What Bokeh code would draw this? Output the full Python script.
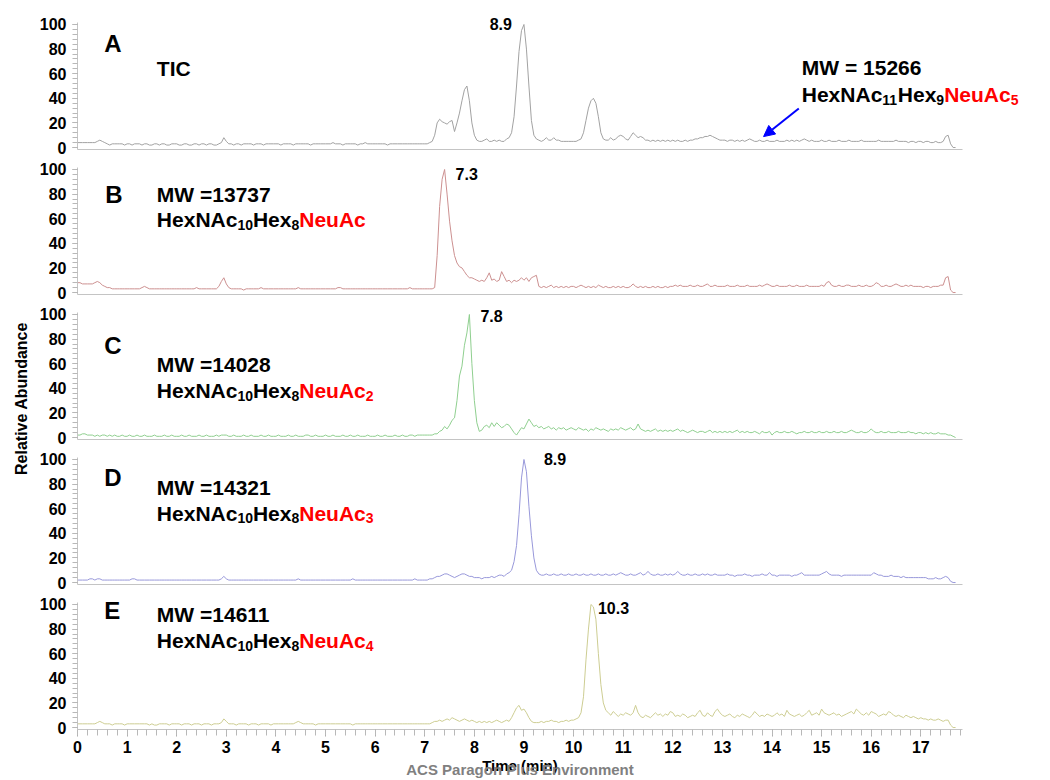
import math
from bokeh.plotting import figure
from bokeh.layouts import column, row
from bokeh.models import (Range1d, SingleIntervalTicker, FixedTicker, Label, Arrow,
                          NormalHead, LinearAxis)
from bokeh.embed import file_html
from bokeh.resources import INLINE

# ---------------- data ----------------
# each row = one minute, sampled every 0.05 min (m.00, m.05, ... m.95)
tic_rows = [
    [4,4,4,4,4,4,4,4,5,6,5,4,3,2,3,3,3,3,3,2],
    [3,3,2,3,3,3,2,3,3,2,2,3,3,2,3,3,2,2,3,3],
    [3,2,2,3,3,2,2,3,3,2,3,3,2,3,3,2,2,3,4,8],
    [5,3,3,2,3,3,2,3,3,3,3,2,3,3,3,2,3,3,3,3],
    [3,3,2,3,3,3,3,2,3,3,3,3,3,3,2,3,3,3,3,3],
    [3,3,3,4,3,3,3,2,3,3,3,3,3,2,3,3,4,3,3,3],
    [3,3,3,3,3,2,3,3,3,3,3,3,3,3,3,3,3,3,3,3],
    [3,3,4,5,10,20,23,21,20,19,21,22,13,20,28,38,47,50,38,20],
    [10,6,5,5,6,7,5,5,6,5,6,5,5,7,8,12,25,50,78,95],
    [100,80,50,22,10,7,6,5,6,8,6,6,8,6,6,5,5,5,5,5],
    [5,5,6,7,12,22,32,38,40,36,25,12,7,6,6,8,6,7,9,10],
    [9,7,6,9,12,10,8,9,8,6,6,5,6,5,6,5,6,5,6,5],
    [6,5,6,5,5,6,5,6,6,7,7,8,8,9,9,10,9,8,7,6],
    [6,6,5,6,6,5,6,5,6,5,6,7,6,5,5,6,5,5,6,5],
    [5,5,6,5,5,5,6,5,6,5,6,5,6,7,6,5,6,5,5,5],
    [6,5,5,6,5,5,5,6,5,5,5,6,5,5,5,5,6,5,5,5],
    [5,5,5,6,5,5,5,5,5,5,6,5,5,5,5,4,5,5,4,5],
    [5,4,5,5,4,4,5,4,4,5,9,10,3,0,0],
]
mw13737_rows = [
    [8,8,7,7,7,7,7,8,9,8,6,5,4,4,3,3,3,3,3,3],
    [3,3,3,3,3,3,4,5,4,3,3,3,3,3,3,3,3,3,3,3],
    [3,3,3,3,3,3,3,3,4,3,3,3,3,3,3,3,3,5,9,12],
    [7,4,3,3,3,3,3,2,3,3,3,3,3,3,4,3,3,3,3,3],
    [3,3,3,3,3,3,3,3,3,4,3,3,3,3,3,3,3,3,3,3],
    [3,3,3,3,3,4,4,3,3,3,3,3,3,3,3,3,3,3,3,3],
    [3,3,3,3,3,3,3,3,3,3,3,3,3,3,4,3,3,3,3,3],
    [3,3,3,3,4,30,70,92,100,80,58,42,30,24,21,20,17,14,12,12],
    [11,10,9,10,9,12,16,10,11,9,10,17,13,9,10,8,10,9,10,12],
    [10,12,9,12,13,14,5,4,5,4,5,6,4,5,4,5,4,5,4,5],
    [5,4,5,6,5,4,5,4,5,4,6,5,4,5,4,4,5,4,5,4],
    [5,4,4,5,7,5,4,5,4,5,4,4,5,4,5,4,4,5,4,5],
    [5,6,5,6,5,5,5,6,5,5,6,5,5,6,7,5,5,6,5,5],
    [5,5,6,5,5,5,6,5,5,5,6,5,5,5,5,6,5,6,7,6],
    [5,5,6,5,5,5,5,6,5,5,6,5,5,5,6,5,5,5,5,5],
    [6,5,8,9,6,5,5,6,5,5,6,6,5,5,5,6,5,5,6,5],
    [5,6,8,7,5,5,6,5,5,6,7,6,5,5,6,5,6,5,5,5],
    [5,4,5,5,4,5,5,5,6,6,12,13,2,0,0],
]
mw14028_rows = [
    [2,2,3,3,2,2,2,1,2,1,2,2,1,2,1,2,1,1,2,1],
    [1,2,1,1,2,1,1,2,1,1,1,2,1,1,1,2,1,1,2,1],
    [1,1,2,1,1,2,1,1,1,2,1,1,2,1,1,1,2,1,2,2],
    [2,1,1,2,1,1,1,2,1,1,2,1,1,1,2,1,1,2,1,1],
    [1,2,1,1,1,2,1,1,2,1,1,1,2,2,1,1,2,1,1,1],
    [2,1,1,2,1,1,1,2,1,1,2,1,1,2,1,1,1,2,1,1],
    [1,2,1,1,2,1,1,1,2,1,1,2,1,1,2,2,1,2,2,2],
    [2,2,2,2,3,3,5,6,9,7,10,14,16,30,50,58,75,85,100,60],
    [30,12,5,6,9,10,8,12,9,12,10,8,9,11,10,7,4,2,5,8],
    [7,11,15,12,9,10,8,9,7,8,9,7,8,6,8,7,8,6,7,8],
    [7,6,8,7,6,7,5,7,6,8,7,6,7,6,5,7,6,7,6,8],
    [7,6,7,8,6,7,11,7,6,5,6,5,6,7,5,6,5,6,5,6],
    [5,6,7,5,6,5,4,5,6,5,4,5,5,4,5,6,4,5,4,5],
    [4,5,4,5,4,5,6,4,5,4,5,4,4,5,4,3,5,4,4,5],
    [2,4,5,4,4,5,4,4,5,4,3,4,4,5,4,4,5,4,4,5],
    [4,4,5,4,4,5,4,4,5,4,4,5,6,5,4,4,5,4,4,5],
    [7,5,4,4,5,4,4,5,4,4,4,5,4,4,4,5,4,4,3,4],
    [4,3,4,3,4,3,3,4,3,3,3,2,2,1,0],
]
mw14321_rows = [
    [2,2,2,2,2,3,3,2,3,3,2,2,2,2,2,2,2,2,2,2],
    [2,2,3,3,2,2,2,2,2,2,2,2,2,2,2,2,2,2,2,2],
    [2,2,2,2,2,2,2,2,2,2,2,2,2,2,2,2,2,2,3,5],
    [3,2,2,2,2,2,2,2,2,2,2,2,2,2,2,2,2,2,2,2],
    [2,2,2,2,2,2,2,2,2,3,2,2,2,2,2,2,2,2,2,2],
    [2,2,2,2,2,2,2,2,2,2,2,3,2,2,2,2,2,2,2,2],
    [2,2,2,2,2,2,2,2,2,2,2,2,2,2,2,2,3,2,2,2],
    [2,2,3,3,4,5,5,6,7,7,6,5,4,5,6,7,7,6,5,5],
    [4,4,4,3,4,4,4,5,4,5,6,6,5,7,8,10,17,30,55,85],
    [100,90,62,38,20,10,7,6,6,7,6,6,7,6,6,7,6,6,7,6],
    [6,7,6,6,7,6,6,7,6,6,7,6,6,7,6,6,7,6,7,8],
    [7,6,6,7,6,6,7,8,6,7,9,7,6,6,7,6,6,7,6,7],
    [6,7,9,7,6,6,7,6,6,7,6,6,7,6,7,6,6,7,6,6],
    [6,6,7,6,6,5,6,6,6,7,6,6,5,6,6,6,7,6,6,8],
    [6,6,5,6,6,6,6,6,5,6,6,7,8,6,6,6,6,6,6,6],
    [7,8,9,7,6,6,6,6,5,6,6,6,6,6,6,6,6,6,6,6],
    [6,8,7,6,6,5,5,5,6,5,5,5,4,5,4,4,4,4,4,4],
    [4,4,4,3,3,3,4,3,3,4,5,4,1,0,0],
]
mw14611_rows = [
    [3,3,3,3,3,3,3,3,4,5,4,3,3,3,2,3,3,3,3,2],
    [3,3,3,3,3,3,3,3,3,2,3,2,2,3,3,3,3,2,3,3],
    [3,3,2,3,3,3,2,3,3,3,2,3,3,3,2,3,3,3,4,7],
    [5,3,3,3,2,3,3,3,3,2,3,3,3,2,3,3,3,3,2,3],
    [3,3,3,3,3,3,3,3,4,5,4,3,3,3,3,3,2,3,3,3],
    [3,3,3,3,3,3,3,3,3,3,3,2,3,3,3,3,3,3,3,3],
    [3,3,3,3,3,3,3,3,3,3,3,3,3,3,3,3,3,3,3,3],
    [3,3,3,4,5,5,6,5,6,7,6,8,7,6,5,6,7,6,5,6],
    [5,4,5,4,5,4,5,4,5,6,5,4,5,6,5,8,12,16,18,14],
    [15,12,8,5,4,4,4,5,4,5,5,6,5,5,4,5,5,6,5,6],
    [6,7,8,12,25,55,80,100,98,88,60,35,20,14,12,10,13,11,9,11],
    [10,12,11,10,12,18,12,9,8,10,9,8,10,12,10,11,9,11,10,13],
    [12,9,10,9,11,10,8,9,10,9,12,14,10,9,12,10,9,13,15,12],
    [10,9,10,11,9,8,10,9,11,10,9,8,10,13,11,9,10,9,11,10],
    [9,10,12,10,11,9,14,11,10,9,10,11,9,10,12,14,10,11,12,10],
    [15,12,11,10,11,12,10,11,9,10,11,12,13,11,15,13,11,10,12,10],
    [13,12,11,9,10,11,10,13,12,10,9,10,9,8,10,9,8,9,8,7],
    [8,7,7,6,7,6,6,7,6,5,6,6,2,0,0],
]

panel_letters = ["A", "B", "C", "D", "E"]
mw_texts = ["MW = 15266", "MW =13737", "MW =14028", "MW =14321", "MW =14611"]
hexnac_n = ["11", "10", "10", "10", "10"]
hex_n = ["9", "8", "8", "8", "8"]
neuac_n = ["5", "", "2", "3", "4"]
peak_labels = ["8.9", "7.3", "7.8", "8.9", "10.3"]
x_axis_end = 17.84          # time axis runs 0 .. 17.84 min
y_axis_bounds = (-1.6, 101.6)

# ---------------- helpers ----------------
def rows_to_xy(rows):
    xs, ys = [], []
    for m, row_ in enumerate(rows):
        for i, v in enumerate(row_):
            xs.append(round(m + 0.05 * i, 2))
            ys.append(v)
    return xs, ys

series = [tic_rows, mw13737_rows, mw14028_rows, mw14321_rows, mw14611_rows]
colors = ["#a2a2a2", "#cc9090", "#8fcf8f", "#9898da", "#cdcd92"]

FONT = "Liberation Sans"
W = {'H': 722, 'e': 556, 'x': 556, 'N': 722, 'A': 722, 'c': 556, 'u': 611}

def tw(s, size):
    return sum(W.get(ch, 556) for ch in s) * size / 1000.0

def lab(p, x, y, text, size, color="black", align="left", baseline="alphabetic",
        xo=0, yo=0, **kw):
    p.add_layout(Label(x=x, y=y, x_offset=xo, y_offset=yo, text=text,
                       text_font=FONT, text_font_size=f"{size}px",
                       text_font_style="bold", text_color=color,
                       text_align=align, text_baseline=baseline, **kw))

def formula(p, x, y, i):
    main, sub = 21, 14
    parts = [("HexNAc", False, "black"), (hexnac_n[i], True, "black"),
             ("Hex", False, "black"), (hex_n[i], True, "black"),
             ("NeuAc", False, "#ff0000"), (neuac_n[i], True, "#ff0000")]
    off = 0.0
    for text, is_sub, col in parts:
        if not text:
            continue
        size = sub if is_sub else main
        lab(p, x, y, text, size, color=col, xo=off, yo=-5 if is_sub else 0)
        off += tw(text, size)

# pixel geometry
PAGE_H = 780
YLAB_W = 36                        # strip holding the shared y title
LEFT = 77                          # x px of the y axes
RIGHT = 1042
AXIS_W = 885                       # px for 0 .. x_axis_end
PPM = AXIS_W / x_axis_end          # px per minute
PPU = 127 / (y_axis_bounds[1] - y_axis_bounds[0])   # px per % unit
xr = Range1d(0, (RIGHT - LEFT) / PPM)

letter_pos = [(0.54, 84.3), (0.56, 79.4), (0.54, 74.8), (0.54, 85.4), (0.54, 95.4)]
mw_pos = [(14.6, 65.3), (1.6, 79.9), (1.6, 59.6), (1.6, 77.5), (1.6, 91.6)]
formula_pos = [(14.6, 43.0), (1.6, 59.1), (1.6, 38.0), (1.6, 56.3), (1.6, 70.5)]
peak_style = [("right", -12, 0), ("left", 11, -5), ("left", 11, -2),
              ("left", 20, 0), ("left", 7, -4)]

figs = []
for i, rows in enumerate(series):
    last = i == 4
    top_px = 22 if i == 0 else 9
    fh = top_px + 127
    y0 = y_axis_bounds[0]
    y1 = y_axis_bounds[1] + top_px / PPU
    if last:
        # bottom panel: frame ends with the time axis so its titles centre on it
        p = figure(frame_width=AXIS_W, frame_height=fh, x_range=Range1d(0, x_axis_end),
                   y_range=Range1d(y0, y1), output_backend="svg",
                   toolbar_location=None, title=None,
                   min_border_left=LEFT - YLAB_W, min_border_right=RIGHT - LEFT - AXIS_W,
                   min_border_top=0, min_border_bottom=0)
    else:
        p = figure(frame_width=RIGHT - LEFT, frame_height=fh, x_range=xr,
                   y_range=Range1d(y0, y1), output_backend="svg",
                   toolbar_location=None, title=None,
                   min_border_left=LEFT - YLAB_W, min_border_right=0,
                   min_border_top=0, min_border_bottom=9)
    p.xgrid.visible = False
    p.ygrid.visible = False
    p.outline_line_color = None
    p.background_fill_color = "white"
    p.border_fill_color = "white"

    xs, ys = rows_to_xy(rows)
    p.line(xs, ys, line_color=colors[i], line_width=1)

    ya = p.yaxis[0]
    ya.bounds = y_axis_bounds
    ya.ticker = SingleIntervalTicker(interval=20, num_minor_ticks=5)
    ya.axis_line_color = "#c4c4c4"
    ya.major_tick_line_color = "#a8a8a8"
    ya.minor_tick_line_color = "#b8b8b8"
    ya.major_tick_in = 0
    ya.major_tick_out = 5
    ya.minor_tick_in = 0
    ya.minor_tick_out = 5
    ya.major_label_standoff = 6
    ya.major_label_text_font = FONT
    ya.major_label_text_font_style = "bold"
    ya.major_label_text_font_size = "16px"
    ya.major_label_text_color = "black"

    xa = p.xaxis[0]
    xa.bounds = (0, x_axis_end)
    xa.axis_line_color = "#c4c4c4"
    if last:
        # bare axis carrying the grey page watermark, pulled up under the time title
        wm = LinearAxis(ticker=FixedTicker(ticks=[]),
                        axis_line_color=None, major_tick_out=0, minor_tick_out=0,
                        major_tick_in=0, minor_tick_in=0, major_label_standoff=0,
                        axis_label="ACS Paragon Plus Environment",
                        axis_label_standoff=-16, axis_label_text_font=FONT,
                        axis_label_text_font_style="bold",
                        axis_label_text_font_size="15px",
                        axis_label_text_color="#808080")
        p.add_layout(wm, "below")
        xa.ticker = SingleIntervalTicker(interval=1, num_minor_ticks=5)
        xa.major_tick_line_color = "#a8a8a8"
        xa.minor_tick_line_color = "#b8b8b8"
        xa.major_tick_in = 0
        xa.major_tick_out = 7
        xa.minor_tick_in = 0
        xa.minor_tick_out = 6
        xa.major_label_standoff = 4
        xa.major_label_text_font = FONT
        xa.major_label_text_font_style = "bold"
        xa.major_label_text_font_size = "16px"
        xa.major_label_text_color = "black"
        xa.axis_label = "Time (min)"
        xa.axis_label_standoff = 1
        xa.axis_label_text_font = FONT
        xa.axis_label_text_font_style = "bold"
        xa.axis_label_text_font_size = "15px"
        xa.axis_label_text_color = "black"
    else:
        xa.ticker = FixedTicker(ticks=[])
        xa.major_tick_in = 0
        xa.major_tick_out = 0
        xa.minor_tick_in = 0
        xa.minor_tick_out = 0
        xa.major_label_standoff = 0

    lx, ly = letter_pos[i]
    lab(p, lx, ly, panel_letters[i], 24)
    mx, my = mw_pos[i]
    lab(p, mx, my, mw_texts[i], 21)
    fx, fy = formula_pos[i]
    formula(p, fx, fy, i)
    k = max(range(len(ys)), key=lambda j: ys[j])
    al, xo, yo = peak_style[i]
    lab(p, xs[k], ys[k], peak_labels[i], 16, align=al, baseline="middle", xo=xo, yo=yo)

    if i == 0:
        lab(p, 1.6, 64.0, "TIC", 21)
        p.add_layout(Arrow(end=NormalHead(size=11, fill_color="#0000ff",
                                          line_color="#0000ff"),
                           x_start=14.54, y_start=31.7, x_end=13.83, y_end=8.9,
                           line_color="#0000ff", line_width=2))
    figs.append(p)

# narrow strip carrying the shared "Relative Abundance" title
ylab = figure(frame_width=YLAB_W, frame_height=PAGE_H, x_range=Range1d(0, YLAB_W),
              y_range=Range1d(0, PAGE_H), output_backend="svg",
              toolbar_location=None, title=None, min_border=0)
ylab.axis.visible = False
ylab.grid.visible = False
ylab.outline_line_color = None
ylab.add_layout(Label(x=21, y=PAGE_H - 398, text="Relative Abundance",
                      angle=math.pi / 2, text_font=FONT, text_font_size="16px",
                      text_font_style="bold", text_color="black",
                      text_align="center", text_baseline="middle"))

layout = row(ylab, column(*figs, spacing=0), spacing=0)
open("out.html", "w").write(file_html(layout, INLINE))
